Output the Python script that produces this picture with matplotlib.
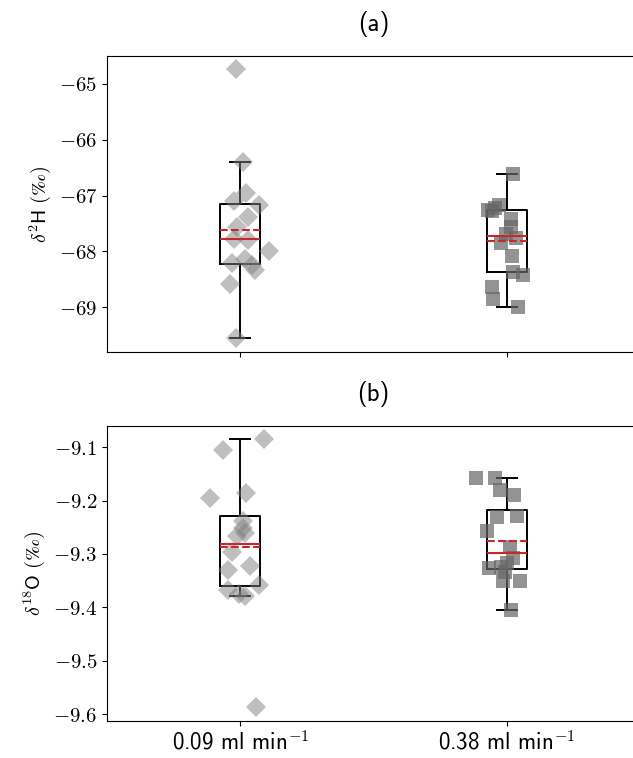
import matplotlib

matplotlib.use("Agg")
import matplotlib.pyplot as plt
from matplotlib.ticker import FixedLocator, FuncFormatter

plt.rcParams["font.family"] = ["cmss10", "DejaVu Sans"]
plt.rcParams["mathtext.fontset"] = "cm"
plt.rcParams["axes.unicode_minus"] = False

groups = ["0.09 ml min$^{\\mathsf{-1}}$", "0.38 ml min$^{\\mathsf{-1}}$"]

# delta 2H, slow flow (diamonds) and fast flow (squares)
d2h_slow = [-64.745, -66.40, -66.95, -67.10, -67.17, -67.38, -67.56, -67.77,
            -67.80, -67.99, -68.21, -68.13, -68.33, -68.24, -68.58, -69.54]
d2h_slow_jit = [-0.017, 0.009, 0.021, -0.025, 0.071, 0.031, -0.013, -0.025,
                0.031, 0.109, -0.032, 0.019, 0.056, 0.044, -0.038, -0.017]
d2h_fast = [-66.61, -67.17, -67.22, -67.26, -67.27, -67.42, -67.56, -67.68,
            -67.76, -67.84, -68.08, -68.36, -68.42, -68.63, -68.84, -69.00]
d2h_fast_jit = [0.024, -0.029, -0.044, -0.069, -0.055, 0.015, 0.015, -0.004,
                0.034, -0.023, 0.019, 0.024, 0.061, -0.054, -0.052, 0.044]

# delta 18O
d18o_slow = [-9.0845, -9.106, -9.1955, -9.185, -9.239, -9.252, -9.267, -9.26,
             -9.297, -9.330, -9.322, -9.358, -9.367, -9.375, -9.378, -9.587]
d18o_slow_jit = [0.088, -0.063, -0.115, 0.021, 0.009, 0.012, -0.013, 0.019,
                 -0.029, -0.047, 0.038, 0.069, -0.044, -0.006, 0.019, 0.059]
d18o_fast = [-9.157, -9.157, -9.181, -9.189, -9.230, -9.228, -9.257, -9.287,
             -9.308, -9.327, -9.324, -9.333, -9.350, -9.350, -9.405, -9.317]
d18o_fast_jit = [-0.114, -0.044, -0.025, 0.027, -0.038, 0.038, -0.073, 0.011,
                 0.025, -0.067, -0.023, -0.006, -0.013, 0.050, 0.015, 0.002]

RED = "#c8282a"

fig = plt.figure(figsize=(6.33, 7.58), dpi=100)
ax1 = fig.add_axes([0.169, 0.536, 0.842, 0.390])
ax2 = fig.add_axes([0.169, 0.0488, 0.842, 0.3896])


def panel(ax, slow, slow_jit, fast, fast_jit, ylim, yticks, ylabel, title):
    ax.boxplot(
        [slow, fast], positions=[0, 1], widths=0.15, showfliers=False,
        showmeans=True, meanline=True, whis=1.5,
        boxprops=dict(color="black", linewidth=1.4, zorder=2),
        whiskerprops=dict(color="black", linewidth=1.4, zorder=2),
        capprops=dict(color="black", linewidth=1.4, zorder=2),
        medianprops=dict(color=RED, linewidth=1.5, zorder=4),
        meanprops=dict(color=RED, linewidth=1.5, linestyle="--", zorder=4),
    )
    ax.plot([0 + j for j in slow_jit], slow, "D", color="grey", alpha=0.5,
            markersize=10.5, markeredgewidth=0, zorder=3)
    ax.plot([1 + j for j in fast_jit], fast, "s", color="#666666", alpha=0.7,
            markersize=9.5, markeredgewidth=0, zorder=3)
    ax.set_xlim(-0.5, 1.5)
    ax.set_ylim(*ylim)
    ax.yaxis.set_major_locator(FixedLocator(yticks))
    ax.yaxis.set_major_formatter(FuncFormatter(lambda v, p: f"${v:g}$"))
    ax.tick_params(axis="y", labelsize=15)
    ax.set_ylabel(ylabel, fontsize=14.5)
    ax.set_title(title, fontsize=18, pad=18)
    ax.spines["right"].set_visible(False)


panel(ax1, d2h_slow, d2h_slow_jit, d2h_fast, d2h_fast_jit,
      (-69.79, -64.51), [-69, -68, -67, -66, -65],
      "$\\delta^{2}\\mathsf{H\\ (‰)}$", "(a)")
panel(ax2, d18o_slow, d18o_slow_jit, d18o_fast, d18o_fast_jit,
      (-9.613, -9.0596), [-9.6, -9.5, -9.4, -9.3, -9.2, -9.1],
      "$\\delta^{18}\\mathsf{O\\ (‰)}$", "(b)")

ax1.set_xticks([0, 1])
ax1.set_xticklabels([])
ax2.set_xticks([0, 1])
ax2.set_xticklabels(groups, fontsize=16.5)

fig.savefig("out.png", dpi=100)
